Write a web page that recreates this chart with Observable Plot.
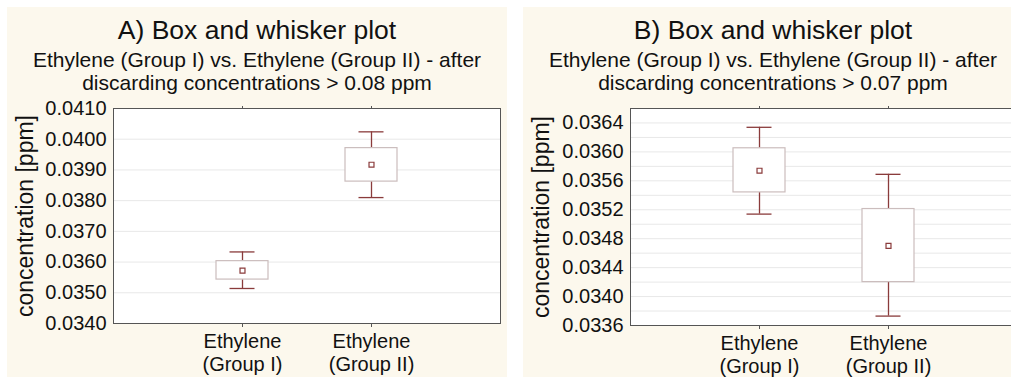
<!DOCTYPE html>
<html>
<head>
<meta charset="utf-8">
<script src="https://cdn.jsdelivr.net/npm/d3@7"></script>
<script src="https://cdn.jsdelivr.net/npm/@observablehq/plot@0.6"></script>
<style>
  html, body { margin: 0; padding: 0; background: #ffffff; width: 1011px; height: 377px; overflow: hidden;
    font-family: "Liberation Sans", Arial, sans-serif; color: #111; }
  .panel { position: absolute; top: 7px; width: 500px; height: 370px; background: #fcf8ed; }
  .title { position: absolute; left: 0; width: 100%; top: 10px; text-align: center; font-size: 26.5px; line-height: 26px; white-space: nowrap; }
  .sub { position: absolute; left: 0; width: 100%; top: 41px; text-align: center; font-size: 21px; line-height: 23px; white-space: nowrap; }
  .chart { position: absolute; left: 0; top: 88px; width: 500px; }
  .chart svg { max-width: none !important; }
</style>
</head>
<body>
<div class="panel" id="pA" style="left:7px">
  <div class="title">A) Box and whisker plot</div>
  <div class="sub">Ethylene (Group I) vs. Ethylene (Group II) - after<br>discarding concentrations &gt; 0.08 ppm</div>
  <div class="chart" id="chartA"></div>
</div>
<div class="panel" id="pB" style="left:523px">
  <div class="title">B) Box and whisker plot</div>
  <div class="sub">Ethylene (Group I) vs. Ethylene (Group II) - after<br>discarding concentrations &gt; 0.07 ppm</div>
  <div class="chart" id="chartB"></div>
</div>
<script>
// ---- data ----
const categories = ["Ethylene\n(Group I)", "Ethylene\n(Group II)"];
const yLabel = "concentration [ppm]";

// Panel A (concentrations > 0.08 ppm discarded)
const aMean      = [0.03572, 0.03917];
const aBoxLow    = [0.03543, 0.03862];
const aBoxHigh   = [0.03603, 0.03971];
const aWhiskLow  = [0.03514, 0.03810];
const aWhiskHigh = [0.03633, 0.04024];
const aDomain    = [0.0340, 0.0410];
const aTicks     = [0.0340, 0.0350, 0.0360, 0.0370, 0.0380, 0.0390, 0.0400, 0.0410];
const aTickLabels = ["0.0340", "0.0350", "0.0360", "0.0370", "0.0380", "0.0390", "0.0400", "0.0410"];
const aGrid      = [0.0350, 0.0360, 0.0370, 0.0380, 0.0390, 0.0400];

// Panel B (concentrations > 0.07 ppm discarded)
const bMean      = [0.03574, 0.03470];
const bBoxLow    = [0.03544, 0.03420];
const bBoxHigh   = [0.03605, 0.03521];
const bWhiskLow  = [0.03514, 0.03373];
const bWhiskHigh = [0.03634, 0.03569];
const bDomain    = [0.0336, 0.0366];
const bTicks     = [0.0336, 0.0340, 0.0344, 0.0348, 0.0352, 0.0356, 0.0360, 0.0364];
const bTickLabels = ["0.0336", "0.0340", "0.0344", "0.0348", "0.0352", "0.0356", "0.0360", "0.0364"];
const bGrid      = [0.0338, 0.0340, 0.0342, 0.0344, 0.0346, 0.0348, 0.0350, 0.0352, 0.0354, 0.0356,
                    0.0358, 0.0360, 0.0362, 0.0364];

// ---- chart ----
const whiskerColor = "#8a3b3b";
const boxColor = "#cbbdbd";

function makeChart(o) {
  const rows = categories.map((c, i) => ({
    c, mean: o.mean[i], lo: o.lo[i], hi: o.hi[i], wlo: o.wlo[i], whi: o.whi[i]
  }));
  const labelMap = new Map(o.ticks.map((t, i) => [t, o.tickLabels[i]]));
  return Plot.plot({
    width: 500,
    height: 282,
    marginTop: 13,
    marginLeft: o.ml,
    marginRight: o.mr,
    marginBottom: o.mb,
    style: { background: "transparent", fontFamily: "'Liberation Sans', Arial, sans-serif", fontSize: "20px", color: "#111", overflow: "visible" },
    x: { type: "band", domain: categories, paddingInner: 0.597, paddingOuter: 0.7985 },
    y: { domain: o.domain },
    marks: [
      Plot.frame({ fill: "white" }),
      Plot.ruleY(o.grid, { stroke: "#e8e8e8", strokeWidth: 1 }),
      Plot.ruleX(rows, { x: "c", y1: "wlo", y2: "lo", stroke: whiskerColor, strokeWidth: 1.3 }),
      Plot.ruleX(rows, { x: "c", y1: "hi", y2: "whi", stroke: whiskerColor, strokeWidth: 1.3 }),
      Plot.tickY(rows, { x: "c", y: "wlo", insetLeft: 13.5, insetRight: 13.5, stroke: whiskerColor, strokeWidth: 1.3 }),
      Plot.tickY(rows, { x: "c", y: "whi", insetLeft: 13.5, insetRight: 13.5, stroke: whiskerColor, strokeWidth: 1.3 }),
      Plot.barY(rows, { x: "c", y1: "lo", y2: "hi", fill: "white", stroke: boxColor, strokeWidth: 1.2 }),
      Plot.dot(rows, { x: "c", y: "mean", symbol: "square", r: 2.8, fill: "white", stroke: whiskerColor, strokeWidth: 1.2 }),
      Plot.axisY({ ticks: o.ticks, tickFormat: d => labelMap.get(d), tickSize: 0, tickPadding: 7, fontSize: 20, label: null }),
      Plot.axisX({ tickSize: 4, tickPadding: 5, fontSize: 20, lineHeight: 1.12, label: null, stroke: "#555" }),
      Plot.axisX({ anchor: "top", tickSize: 3, tickFormat: () => "", label: null, stroke: "#555" }),
      Plot.frame({ stroke: "#555", strokeWidth: 1 }),
      Plot.text([yLabel], { frameAnchor: "left", rotate: -90, dx: o.ldx, fontSize: 23, textAnchor: "middle", lineAnchor: "bottom", fill: "#111" })
    ]
  });
}

document.getElementById("chartA").append(makeChart({
  mean: aMean, lo: aBoxLow, hi: aBoxHigh, wlo: aWhiskLow, whi: aWhiskHigh,
  domain: aDomain, ticks: aTicks, tickLabels: aTickLabels, grid: aGrid,
  ml: 106, mr: 7, mb: 54, ldx: -81
}));
document.getElementById("chartB").append(makeChart({
  mean: bMean, lo: bBoxLow, hi: bBoxHigh, wlo: bWhiskLow, whi: bWhiskHigh,
  domain: bDomain, ticks: bTicks, tickLabels: bTickLabels, grid: bGrid,
  ml: 107, mr: 6, mb: 52, ldx: -82
}));
</script>
</body>
</html>
